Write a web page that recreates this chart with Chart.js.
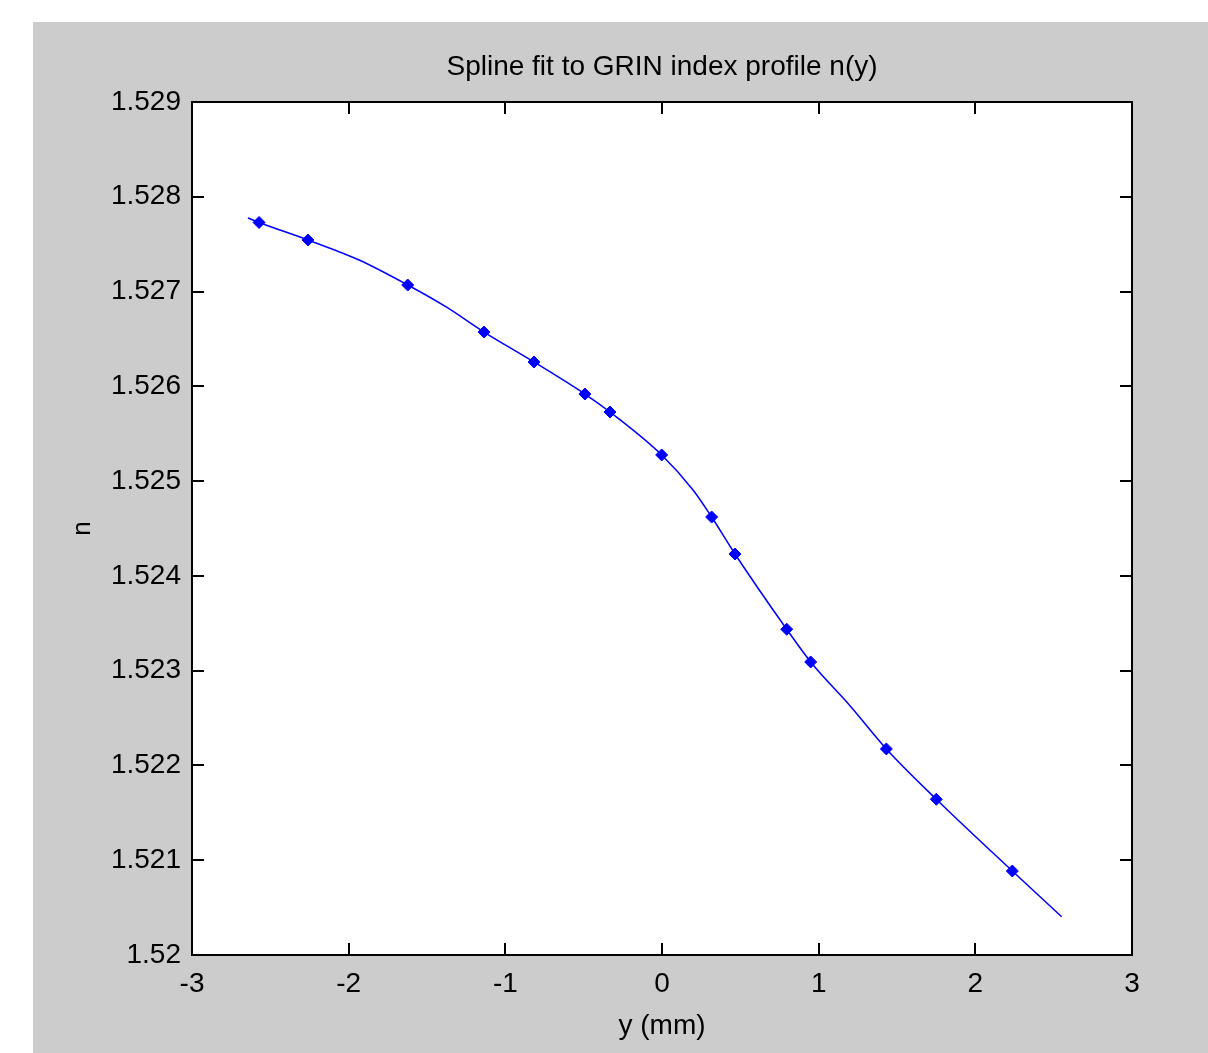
<!DOCTYPE html>
<html>
<head>
<meta charset="utf-8">
<script src="https://cdn.jsdelivr.net/npm/chart.js@4.4.1/dist/chart.umd.min.js"></script>
<style>
  html, body { margin: 0; padding: 0; background: #fff; }
  #fig { position: absolute; left: 33px; top: 22px; width: 1175px; height: 1031px; background: #cccccc; }
</style>
</head>
<body>
<div id="fig"><canvas id="myChart"></canvas></div>
<script>
// sample points (markers)
var markerY = [-2.572, -2.26, -1.623, -1.136, -0.817, -0.492, -0.332, -0.002, 0.317, 0.466, 0.796, 0.949, 1.432, 1.751, 2.236];
var markerN = [1.527729, 1.527544, 1.527069, 1.526573, 1.526257, 1.525919, 1.525729, 1.525276, 1.524621, 1.524231, 1.523437, 1.523092, 1.522174, 1.521643, 1.520886];

// spline curve
var splineY = [-2.643, -2.572, -2.26, -1.93, -1.623, -1.38, -1.136, -0.817, -0.492, -0.332, -0.002, 0.198, 0.317, 0.466, 0.796, 0.949, 1.2, 1.432, 1.751, 2.236, 2.551];
var splineN = [1.527776, 1.527729, 1.527544, 1.527330, 1.527069, 1.526840, 1.526573, 1.526257, 1.525919, 1.525729, 1.525276, 1.524906, 1.524621, 1.524231, 1.523437, 1.523092, 1.522630, 1.522174, 1.521643, 1.520886, 1.520404];

var xTicks = [-3, -2, -1, 0, 1, 2, 3];
var titleText = 'Spline fit to GRIN index profile n(y)';

function toPts(xs, ys) {
	return xs.map(function (x, i) { return { x: x, y: ys[i] }; });
}

Chart.defaults.color = '#000';
Chart.defaults.font.family = '"Liberation Sans", Arial, sans-serif';

// matlab style box with inward ticks on all four sides, title over the axes
var boxPlugin = {
	id: 'box',
	afterDraw: function (chart) {
		var ctx = chart.ctx;
		var a = chart.chartArea;
		var xs = chart.scales.x, ys = chart.scales.y;
		var len = 12;
		ctx.save();
		ctx.strokeStyle = '#000';
		ctx.lineWidth = 2;
		ctx.strokeRect(a.left, a.top, a.right - a.left, a.bottom - a.top);
		ctx.beginPath();
		xs.ticks.forEach(function (t) {
			var px = Math.round(xs.getPixelForValue(t.value));
			if (px <= a.left + 1 || px >= a.right - 1) return;
			ctx.moveTo(px, a.bottom); ctx.lineTo(px, a.bottom - len);
			ctx.moveTo(px, a.top); ctx.lineTo(px, a.top + len);
		});
		ys.ticks.forEach(function (t) {
			var py = Math.round(ys.getPixelForValue(t.value));
			if (py <= a.top + 1 || py >= a.bottom - 1) return;
			ctx.moveTo(a.left, py); ctx.lineTo(a.left + len, py);
			ctx.moveTo(a.right, py); ctx.lineTo(a.right - len, py);
		});
		ctx.stroke();

		ctx.fillStyle = '#000';
		ctx.font = '28px "Liberation Sans", Arial, sans-serif';
		ctx.textAlign = 'center';
		ctx.textBaseline = 'middle';
		ctx.fillText(titleText, (a.left + a.right) / 2, a.top - 35);
		ctx.restore();
	}
};

var bgPlugin = {
	id: 'plotbg',
	beforeDraw: function (chart) {
		var a = chart.chartArea;
		chart.ctx.save();
		chart.ctx.fillStyle = '#fff';
		chart.ctx.fillRect(a.left, a.top, a.right - a.left, a.bottom - a.top);
		chart.ctx.restore();
	}
};

new Chart('myChart', {
	type: 'line',
	data: {
		datasets: [
			{
				data: toPts(splineY, splineN),
				borderColor: '#0000ff',
				borderWidth: 1.5,
				pointRadius: 0,
				cubicInterpolationMode: 'monotone',
				fill: false,
			},
			{
				data: toPts(markerY, markerN),
				showLine: false,
				pointStyle: 'rectRot',
				pointRadius: 6,
				backgroundColor: '#0000ff',
				borderColor: '#0000ff',
				borderWidth: 1,
			},
		],
	},
	options: {
		responsive: true,
		maintainAspectRatio: false,
		animation: false,
		layout: { padding: { left: 0, right: 76, top: 80, bottom: 0 } },
		plugins: {
			legend: { display: false },
			tooltip: { enabled: false },
			title: { display: false },
		},
		scales: {
			x: {
				type: 'linear',
				min: -3,
				max: 3,
				afterFit: function (s) { s.height = 98; },
				afterBuildTicks: function (s) { s.ticks = xTicks.map(function (v) { return { value: v }; }); },
				grid: { display: false, drawTicks: false },
				border: { display: false },
				ticks: {
					padding: 12,
					maxRotation: 0,
					font: { size: 28 },
					callback: function (v) { return String(v); },
				},
				title: {
					display: true,
					text: 'y (mm)',
					font: { size: 28 },
					padding: { top: 0, bottom: 10 },
				},
			},
			y: {
				min: 1.52,
				max: 1.529,
				afterFit: function (s) { s.width = 159; },
				grid: { display: false, drawTicks: false },
				border: { display: false },
				ticks: {
					stepSize: 0.001,
					padding: 11,
					font: { size: 28 },
					callback: function (v) { return String(parseFloat(v.toFixed(3))); },
				},
				title: {
					display: true,
					text: 'n',
					font: { size: 26 },
					padding: { top: 34, bottom: 0 },
				},
			},
		},
	},
	plugins: [bgPlugin, boxPlugin],
});
</script>
</body>
</html>
